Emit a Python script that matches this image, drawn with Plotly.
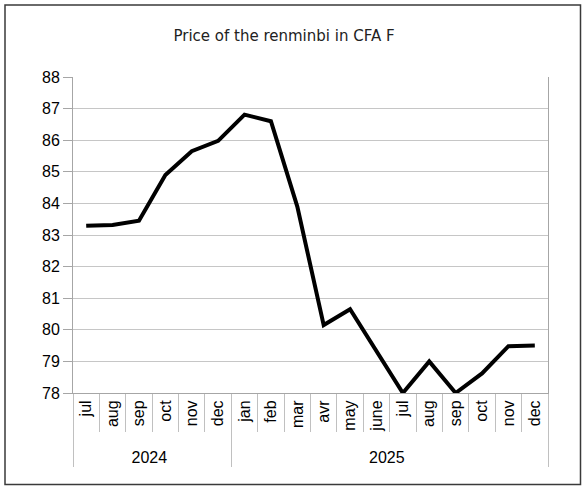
import plotly.graph_objects as go

ZW = "\u200b"  # invisible marker keeping 2024 months distinct from 2025 months
years = ["2024"] * 6 + ["2025"] * 12
months = ["jul" + ZW, "aug" + ZW, "sep" + ZW, "oct" + ZW, "nov" + ZW, "dec" + ZW,
          "jan", "feb", "mar", "avr", "may", "june",
          "jul", "aug", "sep", "oct", "nov", "dec"]
prices = [83.29, 83.32, 83.45, 84.9, 85.65, 85.98,
          86.81, 86.6, 83.9, 80.15, 80.65, 79.35,
          78.0, 79.0, 78.0, 78.62, 79.48, 79.5]
y_ticks = list(range(78, 89))

fig = go.Figure()
fig.add_trace(go.Scatter(
    x=[years, months], y=prices, mode="lines",
    line=dict(color="black", width=4), showlegend=False,
))

axis_gray = "#a6a6a6"
fig.update_layout(
    width=584, height=486,
    margin=dict(l=73, r=36, t=77, b=93),
    paper_bgcolor="white", plot_bgcolor="white",
    title=dict(text="Price of the renminbi in CFA F", x=284 / 584, xanchor="center",
               y=1 - 36 / 486, yanchor="middle",
               font=dict(family="DejaVu Sans", size=15, color="#222222")),
    font=dict(family="Liberation Sans", size=16, color="black"),
)
fig.update_yaxes(
    range=[78, 88], tickvals=y_ticks, ticks="outside", ticklen=9,
    tickcolor=axis_gray, showgrid=True, gridcolor="#c6c6c6", gridwidth=1,
    showline=True, linecolor=axis_gray, mirror=True, zeroline=False,
    tickfont=dict(family="Liberation Sans", size=16, color="black"),
)
fig.update_xaxes(
    type="multicategory", range=[-0.5, len(prices) - 0.5],
    tickangle=-90, ticks="outside", tickson="boundaries",
    ticklen=38, tickcolor="#c0c0c0", showgrid=False, showline=True,
    linecolor=axis_gray, showdividers=True, dividercolor="#c0c0c0", dividerwidth=1,
    tickfont=dict(family="Liberation Sans", size=16, color="black"),
)
fig.add_shape(type="rect", xref="paper", yref="paper",
              x0=(5 - 73) / 475, x1=(580.5 - 73) / 475,
              y0=(393 - 484.5) / 316, y1=(393 - 5) / 316,
              line=dict(color="#3a3a3a", width=1.5), fillcolor="rgba(0,0,0,0)", layer="below")

fig.write_html("out.html", config={"displayModeBar": False},
               post_script="document.body.style.margin='0';document.body.style.overflow='hidden';")
